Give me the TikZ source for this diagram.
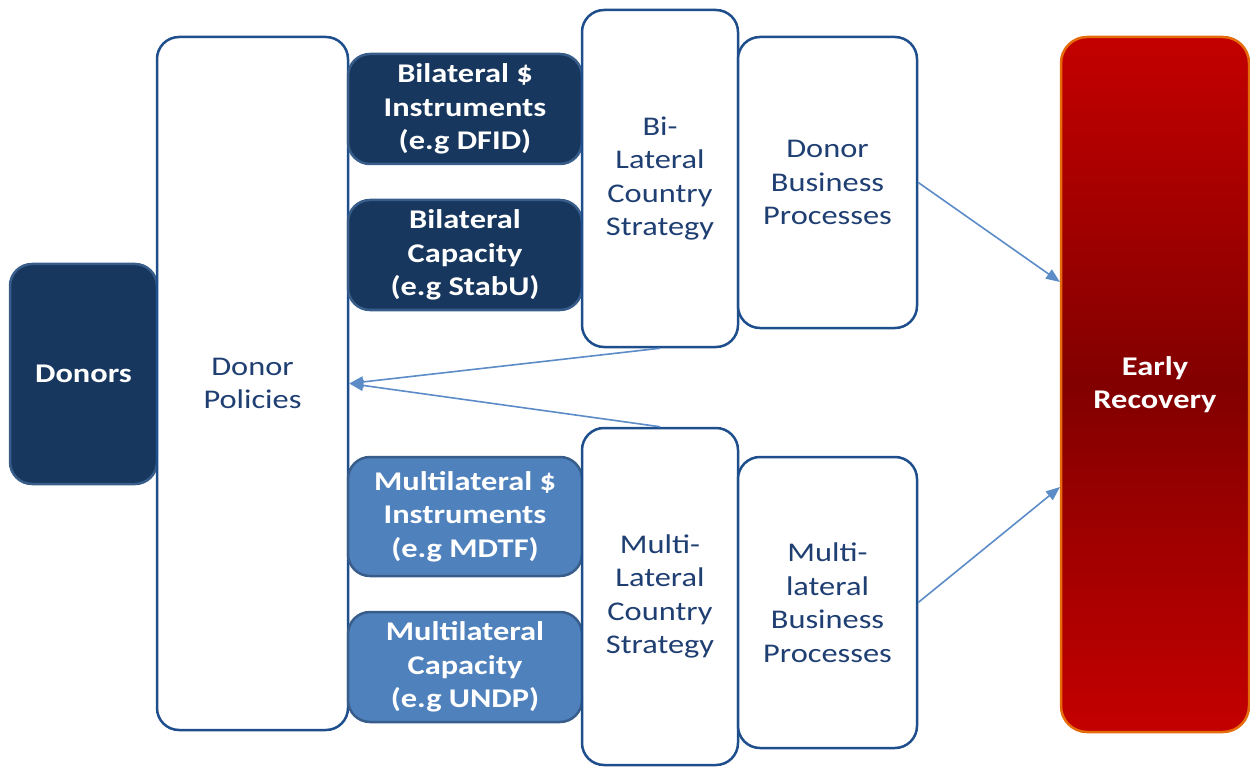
\documentclass[tikz,border=0pt]{standalone}
\usepackage{fontspec}
\setmainfont[FakeStretch=1.2]{Carlito}
\usetikzlibrary{arrows.meta}
\definecolor{navy}{HTML}{17375E}
\definecolor{navyedge}{HTML}{385D8A}
\definecolor{midblue}{HTML}{4F81BD}
\definecolor{boxedge}{HTML}{1F4E8C}
\definecolor{txtblue}{HTML}{1F3F73}
\definecolor{arrblue}{HTML}{5B8CC8}
\definecolor{redtop}{HTML}{C40000}
\definecolor{redmid}{HTML}{820000}
\definecolor{redge}{HTML}{E46C0A}
\tikzset{
  base/.style={rectangle, rounded corners=22pt, line width=2.5pt, inner sep=0pt, align=center, font=\fontsize{27}{33.5}\selectfont},
  whitebox/.style={base, draw=boxedge, fill=white, text=txtblue},
  darkbox/.style={base, draw=navyedge, fill=navy, text=white, font=\fontsize{27}{33.5}\selectfont\bfseries},
  lightbox/.style={base, draw=navyedge, fill=midblue, text=white, font=\fontsize{27}{33.5}\selectfont\bfseries},
  redbox/.style={base, draw=redge, top color=redtop, bottom color=redtop, middle color=redmid, text=white, font=\fontsize{27}{33.5}\selectfont\bfseries},
  arr/.style={draw=arrblue, line width=1.6pt, -{Triangle[length=14pt,width=11pt]}}
}
\begin{document}
\begin{tikzpicture}[x=1pt,y=-1pt]
\useasboundingbox (0,0) rectangle (1250,767);
\node[darkbox, minimum width=147pt, minimum height=220pt] (donors) at (83.5,374) {Donors};
\node[whitebox, minimum width=191pt, minimum height=693pt] (policies) at (252.5,383.5) {Donor\\Policies};
\node[darkbox, minimum width=234pt, minimum height=110pt] (binst) at (465,109) {Bilateral \$\\Instruments\\(e.g DFID)};
\node[darkbox, minimum width=234pt, minimum height=110pt] (bcap) at (465,255) {Bilateral\\Capacity\\(e.g StabU)};
\node[whitebox, minimum width=156pt, minimum height=337pt] (bstrat) at (660,178.5) {Bi-\\Lateral\\Country\\Strategy};
\node[whitebox, minimum width=179pt, minimum height=291pt] (dbp) at (827.5,182.5) {Donor\\Business\\Processes};
\node[lightbox, minimum width=234pt, minimum height=119pt] (minst) at (465,516.5) {Multilateral \$\\Instruments\\(e.g MDTF)};
\node[lightbox, minimum width=234pt, minimum height=110pt] (mcap) at (465,667) {Multilateral\\Capacity\\(e.g UNDP)};
\node[whitebox, minimum width=156pt, minimum height=337pt] (mstrat) at (660,596.5) {Multi-\\Lateral\\Country\\Strategy};
\node[whitebox, minimum width=179pt, minimum height=291pt] (mbp) at (827.5,602.5) {Multi-\\lateral\\Business\\Processes};
\node[redbox, rounded corners=26pt, minimum width=188pt, minimum height=695pt] (er) at (1155,384.5) {Early\\Recovery};
\coordinate (erin1) at (1060,282);
\coordinate (erin2) at (1060,487);
\draw[arr] (bstrat.south) -- (policies.east);
\draw[arr] (mstrat.north) -- (policies.east);
\draw[arr] (dbp.east) -- (erin1);
\draw[arr] (mbp.east) -- (erin2);
\end{tikzpicture}
\end{document}
